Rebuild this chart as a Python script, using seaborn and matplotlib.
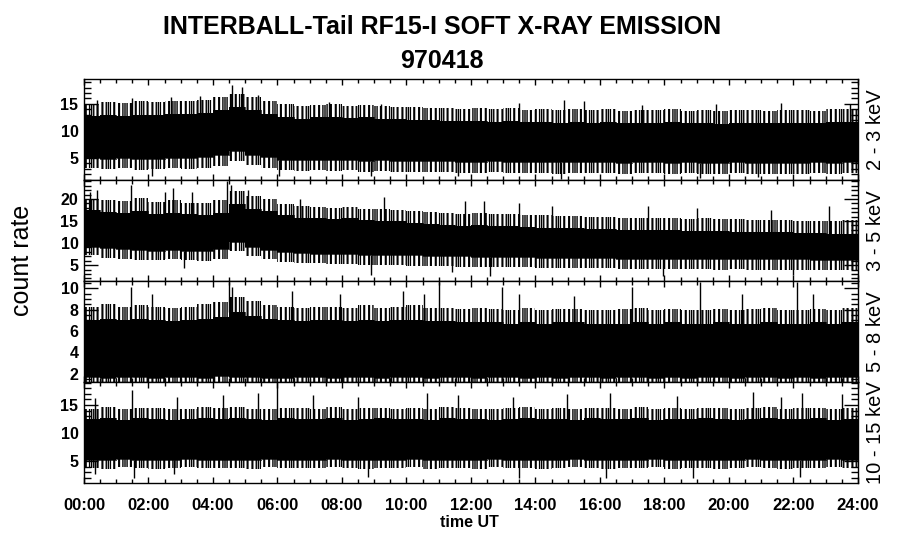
import numpy as np
import matplotlib
matplotlib.use("Agg")
import matplotlib.pyplot as plt
import seaborn as sns
from matplotlib.ticker import MultipleLocator, FuncFormatter

# half-hour bins, 00:00 .. 24:00
bin_edges = [h / 2 for h in range(49)]

# ---- 2 - 3 keV ----
p1_hi_peak = [15.0, 15.4, 15.2, 15.6, 15.3, 15.6, 15.5, 15.8, 16.2, 16.8, 16.3, 15.6,
              14.9, 14.6, 14.8, 15.0, 14.7, 14.8, 14.6, 14.5, 14.4, 14.3, 14.2, 14.1,
              14.2, 14.0, 14.3, 13.9, 14.1, 13.8, 14.0, 13.8, 14.0, 13.7, 13.9, 13.8,
              14.0, 13.7, 13.9, 13.6, 13.8, 13.9, 13.7, 13.9, 13.8, 13.7, 14.0, 14.1]
p1_hi_solid = [12.7, 12.9, 12.8, 13.0, 12.9, 13.1, 13.2, 13.3, 13.8, 14.4, 13.9, 13.2,
               12.6, 12.2, 12.5, 12.6, 12.4, 12.5, 12.3, 12.2, 12.1, 12.0, 11.9, 11.8,
               11.8, 11.7, 11.8, 11.6, 11.7, 11.5, 11.6, 11.5, 11.6, 11.4, 11.5, 11.5,
               11.6, 11.4, 11.5, 11.3, 11.4, 11.5, 11.4, 11.5, 11.5, 11.4, 11.6, 11.7]
p1_lo_solid = [5.0, 4.9, 5.0, 4.8, 4.9, 5.0, 5.0, 5.1, 5.5, 6.3, 5.6, 5.1,
               4.7, 4.6, 4.7, 4.6, 4.6, 4.5, 4.6, 4.5, 4.4, 4.5, 4.4, 4.3,
               4.3, 4.4, 4.3, 4.2, 4.3, 4.2, 4.2, 4.3, 4.2, 4.1, 4.2, 4.2,
               4.1, 4.2, 4.1, 4.1, 4.2, 4.1, 4.0, 4.1, 4.1, 4.2, 4.1, 4.2]
p1_lo_peak = [3.1, 3.0, 3.2, 2.8, 3.0, 3.1, 3.0, 3.2, 3.6, 4.4, 3.7, 3.1,
              2.7, 2.6, 2.8, 2.6, 2.7, 2.5, 2.6, 2.5, 2.4, 2.5, 2.4, 2.3,
              2.3, 2.4, 2.2, 2.2, 2.3, 2.1, 2.2, 2.3, 2.2, 2.0, 2.2, 2.2,
              2.1, 2.2, 2.0, 2.1, 2.2, 2.0, 2.0, 2.1, 2.1, 2.2, 2.0, 2.2]
p1_up_t = [0.4, 1.5, 2.7, 3.6, 4.6, 4.9, 5.4, 7.6, 9.2, 13.5, 14.9, 15.5, 17.3, 19.6,
           21.6, 23.75]
p1_up_v = [15.8, 16.0, 16.2, 16.4, 18.5, 18.2, 16.6, 15.3, 15.0, 15.2, 15.8, 15.6, 14.8,
           14.9, 15.2, 14.9]
p1_dn_t = [2.1, 6.05, 8.9, 11.6, 14.8, 19.1, 20.9]
p1_dn_v = [1.6, 1.6, 1.7, 1.6, 1.1, 1.3, 1.5]

# ---- 3 - 5 keV ----
p2_hi_peak = [20.0, 19.8, 19.5, 20.2, 19.3, 19.8, 19.2, 19.0, 19.8, 21.8, 20.6, 20.0,
              18.8, 18.3, 18.2, 18.0, 18.2, 17.8, 17.7, 17.5, 17.3, 17.0, 16.8, 16.6,
              16.9, 16.6, 16.6, 16.4, 16.3, 16.1, 16.2, 16.0, 15.9, 15.8, 15.8, 15.6,
              15.7, 15.5, 15.6, 15.4, 15.4, 15.3, 15.3, 15.2, 15.1, 15.0, 15.0, 15.2]
p2_hi_solid = [17.5, 17.0, 16.8, 17.2, 16.6, 16.8, 16.5, 16.3, 16.8, 18.8, 17.8, 17.2,
               16.3, 15.8, 15.6, 15.5, 15.6, 15.3, 15.1, 15.0, 14.6, 14.4, 14.1, 13.9,
               14.1, 13.9, 13.8, 13.7, 13.5, 13.4, 13.4, 13.2, 13.1, 13.0, 13.0, 12.9,
               12.9, 12.8, 12.8, 12.7, 12.6, 12.6, 12.5, 12.5, 12.3, 12.2, 12.1, 12.0]
p2_lo_solid = [9.2, 8.8, 8.6, 8.4, 8.3, 8.4, 8.3, 8.2, 8.6, 10.2, 9.2, 8.5,
               7.9, 7.7, 7.6, 7.6, 7.5, 7.4, 7.3, 7.3, 7.2, 7.1, 7.0, 7.0,
               6.9, 6.8, 6.8, 6.8, 6.7, 6.7, 6.6, 6.6, 6.6, 6.5, 6.5, 6.5,
               6.5, 6.4, 6.4, 6.4, 6.4, 6.3, 6.3, 6.3, 6.3, 6.2, 6.2, 6.2]
p2_lo_peak = [7.2, 6.7, 6.5, 6.2, 6.1, 6.3, 6.1, 6.0, 6.5, 8.2, 7.0, 6.3,
              5.7, 5.4, 5.4, 5.3, 5.2, 5.1, 5.0, 5.0, 4.9, 4.8, 4.7, 4.6,
              4.6, 4.5, 4.5, 4.5, 4.4, 4.4, 4.3, 4.3, 4.3, 4.2, 4.2, 4.2,
              4.1, 4.1, 4.1, 4.0, 4.1, 4.0, 3.9, 4.0, 3.9, 3.9, 3.8, 3.9]
p2_up_t = [0.2, 0.4, 1.45, 2.5, 2.75, 3.35, 4.45, 4.55, 5.1, 6.7, 9.3, 11.8, 12.4,
           13.5, 14.5, 17.5, 19.0, 21.3, 23.1]
p2_up_v = [21.5, 22.0, 23.2, 21.6, 22.4, 21.5, 24.0, 23.2, 22.0, 20.0, 20.5, 19.5, 19.5,
           19.0, 18.5, 18.3, 18.0, 17.6, 18.5]
p2_dn_t = [3.1, 8.9, 11.4, 12.6, 17.95, 22.0]
p2_dn_v = [4.3, 2.8, 3.5, 2.6, 2.6, 2.8]

# ---- 5 - 8 keV ----
p3_hi_peak = [8.3, 8.5, 8.3, 8.4, 8.3, 8.2, 8.3, 8.5, 8.7, 9.2, 8.8, 8.4,
              8.3, 8.2, 8.3, 8.3, 8.2, 8.4, 8.2, 8.3, 8.4, 8.2, 8.2, 8.1,
              8.2, 8.1, 8.0, 8.2, 8.0, 8.1, 8.1, 8.0, 8.0, 8.1, 8.2, 8.0,
              8.1, 8.0, 8.0, 8.1, 8.0, 8.1, 8.2, 8.0, 8.0, 8.1, 8.0, 8.2]
p3_hi_solid = [7.0, 7.1, 7.0, 7.1, 7.0, 6.9, 7.0, 7.1, 7.3, 7.8, 7.4, 7.1,
               7.0, 6.9, 7.0, 7.0, 6.9, 7.0, 6.9, 7.0, 7.0, 6.9, 6.9, 6.8,
               6.8, 6.8, 6.7, 6.8, 6.7, 6.8, 6.8, 6.7, 6.7, 6.7, 6.8, 6.7,
               6.8, 6.7, 6.7, 6.8, 6.7, 6.7, 6.8, 6.7, 6.7, 6.8, 6.7, 6.8]
p3_lo_solid = [1.7, 1.6, 1.7, 1.7, 1.6, 1.7, 1.7, 1.6, 1.8, 1.7, 1.7, 1.6,
               1.6, 1.7, 1.7, 1.6, 1.7, 1.7, 1.6, 1.7, 1.7, 1.6, 1.7, 1.7,
               1.6, 1.7, 1.7, 1.6, 1.7, 1.6, 1.7, 1.7, 1.6, 1.7, 1.7, 1.6,
               1.7, 1.6, 1.7, 1.7, 1.6, 1.7, 1.7, 1.6, 1.7, 1.6, 1.7, 1.7]
p3_lo_peak = [1.2, 1.2, 1.2, 1.2, 1.2, 1.2, 1.2, 1.2, 1.2, 1.2, 1.2, 1.2,
              1.2, 1.2, 1.2, 1.2, 1.2, 1.2, 1.2, 1.2, 1.2, 1.2, 1.2, 1.2,
              1.2, 1.2, 1.2, 1.2, 1.2, 1.2, 1.2, 1.2, 1.2, 1.2, 1.2, 1.2,
              1.2, 1.2, 1.2, 1.2, 1.2, 1.2, 1.2, 1.2, 1.2, 1.2, 1.2, 1.2]
p3_up_t = [1.45, 2.1, 4.5, 4.6, 6.45, 7.95, 9.9, 10.55, 11.0, 12.97, 13.5, 15.2, 17.0,
           19.1, 20.4, 22.1, 22.6]
p3_up_v = [10.1, 9.5, 10.6, 10.1, 9.8, 9.5, 9.8, 9.5, 10.6, 10.1, 9.5, 9.3, 10.1,
           10.6, 9.5, 10.6, 9.5]
p3_dn_t = []
p3_dn_v = []

# ---- 10 - 15 keV ----
p4_hi_peak = [14.3, 14.6, 14.2, 14.5, 14.4, 14.2, 14.3, 14.6, 14.4, 14.7, 14.3, 14.2,
              14.5, 14.4, 14.3, 14.6, 14.2, 14.4, 14.5, 14.3, 14.4, 14.2, 14.6, 14.4,
              14.3, 14.2, 14.4, 14.6, 14.3, 14.4, 14.2, 14.5, 14.4, 14.3, 14.6, 14.2,
              14.4, 14.3, 14.5, 14.4, 14.2, 14.4, 14.6, 14.3, 14.4, 14.5, 14.2, 14.4]
p4_hi_solid = [12.5, 12.6, 12.4, 12.6, 12.5, 12.4, 12.5, 12.6, 12.5, 12.7, 12.5, 12.4,
               12.6, 12.5, 12.5, 12.6, 12.4, 12.5, 12.6, 12.5, 12.5, 12.4, 12.6, 12.5,
               12.5, 12.4, 12.5, 12.6, 12.5, 12.5, 12.4, 12.6, 12.5, 12.5, 12.6, 12.4,
               12.5, 12.5, 12.6, 12.5, 12.4, 12.5, 12.6, 12.5, 12.5, 12.6, 12.4, 12.5]
p4_lo_solid = [5.2, 5.1, 5.3, 5.2, 5.1, 5.2, 5.3, 5.1, 5.2, 5.2, 5.1, 5.3,
               5.2, 5.1, 5.2, 5.3, 5.2, 5.1, 5.2, 5.2, 5.3, 5.1, 5.2, 5.2,
               5.1, 5.3, 5.2, 5.2, 5.1, 5.2, 5.3, 5.2, 5.1, 5.2, 5.2, 5.3,
               5.1, 5.2, 5.2, 5.1, 5.2, 5.3, 5.2, 5.1, 5.2, 5.2, 5.3, 5.2]
p4_lo_peak = [3.8, 3.6, 3.9, 3.8, 3.6, 3.8, 3.9, 3.7, 3.8, 3.7, 3.6, 3.9,
              3.8, 3.7, 3.8, 3.9, 3.7, 3.6, 3.8, 3.8, 3.9, 3.6, 3.8, 3.7,
              3.6, 3.9, 3.8, 3.7, 3.6, 3.8, 3.9, 3.8, 3.6, 3.8, 3.7, 3.9,
              3.6, 3.8, 3.8, 3.6, 3.7, 3.9, 3.8, 3.6, 3.8, 3.7, 3.9, 3.8]
p4_up_t = [0.35, 1.5, 2.9, 4.3, 5.4, 6.0, 7.1, 8.5, 10.65, 11.6, 13.3, 14.97, 16.3,
           18.4, 20.75, 21.6, 22.25, 23.5]
p4_up_v = [16.2, 17.7, 16.5, 16.7, 17.2, 19.1, 16.8, 16.5, 17.2, 16.8, 16.4, 17.0, 17.2,
           16.6, 17.4, 16.5, 17.2, 16.9]
p4_dn_t = [0.35, 1.55, 2.8, 8.8, 13.5, 16.2, 18.9, 22.2]
p4_dn_v = [2.6, 1.9, 2.6, 2.2, 1.9, 1.9, 1.9, 2.2]

band_labels = ["2 - 3 keV", "3 - 5 keV", "5 - 8 keV", "10 - 15 keV"]
y_limits = [(0.93, 19.6), (1.4, 24.3), (1.2, 10.7), (1.07, 19.1)]
y_major = [5, 5, 2, 5]
y_minor = [1, 1, 0.5, 1]

panels = [
    (p1_hi_peak, p1_hi_solid, p1_lo_solid, p1_lo_peak, p1_up_t, p1_up_v, p1_dn_t, p1_dn_v),
    (p2_hi_peak, p2_hi_solid, p2_lo_solid, p2_lo_peak, p2_up_t, p2_up_v, p2_dn_t, p2_dn_v),
    (p3_hi_peak, p3_hi_solid, p3_lo_solid, p3_lo_peak, p3_up_t, p3_up_v, p3_dn_t, p3_dn_v),
    (p4_hi_peak, p4_hi_solid, p4_lo_solid, p4_lo_peak, p4_up_t, p4_up_v, p4_dn_t, p4_dn_v),
]

sns.set_theme(style="ticks")
plt.rcParams['font.family'] = ['Liberation Sans', 'DejaVu Sans']
plt.rcParams['hatch.linewidth'] = 1.0
plt.rcParams['axes.linewidth'] = 1.0
for key in ['text.color', 'axes.labelcolor', 'xtick.color', 'ytick.color', 'axes.edgecolor']:
    plt.rcParams[key] = 'black'

fig = plt.figure(figsize=(9, 5.48), dpi=100)
gs = fig.add_gridspec(4, 1, left=0.0933, right=0.9533, top=0.8558, bottom=0.1186, hspace=0)
axes = [fig.add_subplot(gs[i]) for i in range(4)]


def ext(vals):
    # repeat last value so the step reaches 24:00
    return list(vals) + [vals[-1]]


for i, ax in enumerate(axes):
    hi_peak, hi_solid, lo_solid, lo_peak, up_t, up_v, dn_t, dn_v = panels[i]

    # dense core of the count-rate trace
    ax.fill_between(bin_edges, ext(lo_solid), ext(hi_solid), step='post',
                    color='black', lw=0)
    # ragged edges: comb of spikes
    for hatch in ['|||', '||||']:
        ax.fill_between(bin_edges, ext(hi_solid), ext(hi_peak), step='post',
                        facecolor='none', edgecolor='black', hatch=hatch, lw=0)
        ax.fill_between(bin_edges, ext(lo_peak), ext(lo_solid), step='post',
                        facecolor='none', edgecolor='black', hatch=hatch, lw=0)
    sns.lineplot(x=bin_edges, y=ext(hi_solid), drawstyle='steps-post',
                 color='black', lw=0.5, ax=ax)
    sns.lineplot(x=bin_edges, y=ext(lo_solid), drawstyle='steps-post',
                 color='black', lw=0.5, ax=ax)

    # isolated tall spikes
    if up_t:
        ax.vlines(up_t, [hi_solid[int(t * 2)] for t in up_t], up_v, color='black', lw=1.0)
    if dn_t:
        ax.vlines(dn_t, dn_v, [lo_solid[int(t * 2)] for t in dn_t], color='black', lw=1.0)

    ax.set_xlim(0, 24)
    ax.set_ylim(*y_limits[i])
    ax.xaxis.set_major_locator(MultipleLocator(2))
    ax.xaxis.set_minor_locator(MultipleLocator(0.5))
    ax.yaxis.set_major_locator(MultipleLocator(y_major[i]))
    ax.yaxis.set_minor_locator(MultipleLocator(y_minor[i]))
    ax.tick_params(axis='both', which='both', direction='in', top=True, right=True,
                   colors='black', width=1.0)
    ax.tick_params(axis='y', which='major', length=10, pad=4)
    ax.tick_params(axis='y', which='minor', length=5)
    ax.tick_params(axis='x', which='major', length=4.5, pad=11)
    ax.tick_params(axis='x', which='minor', length=3)
    for lab in ax.get_yticklabels():
        lab.set_fontweight('bold')
        lab.set_fontsize(11.5)
    ax.set_xlabel('')
    ax.set_ylabel('')
    for sp in ax.spines.values():
        sp.set_visible(True)
        sp.set_color('black')
    ax.text(1.01, 0.5, band_labels[i], transform=ax.transAxes, rotation=90,
            ha='left', va='center', fontsize=14.5)
    if i < 3:
        ax.tick_params(axis='x', labelbottom=False)
    else:
        ax.xaxis.set_major_formatter(FuncFormatter(lambda v, _: f"{int(v):02d}:00"))
        for lab in ax.get_xticklabels():
            lab.set_fontweight('bold')
            lab.set_fontsize(12)

fig.text(0.491, 0.951, "INTERBALL-Tail RF15-I SOFT X-RAY EMISSION",
         ha='center', va='center', fontsize=18, fontweight='bold')
fig.text(0.491, 0.889, "970418", ha='center', va='center', fontsize=18, fontweight='bold')
fig.text(0.024, 0.525, "count rate", rotation=90, ha='center', va='center', fontsize=18)
fig.text(0.522, 0.047, "time UT", ha='center', va='center', fontsize=11.5, fontweight='bold')

fig.savefig("out.png", dpi=100, facecolor='white')
